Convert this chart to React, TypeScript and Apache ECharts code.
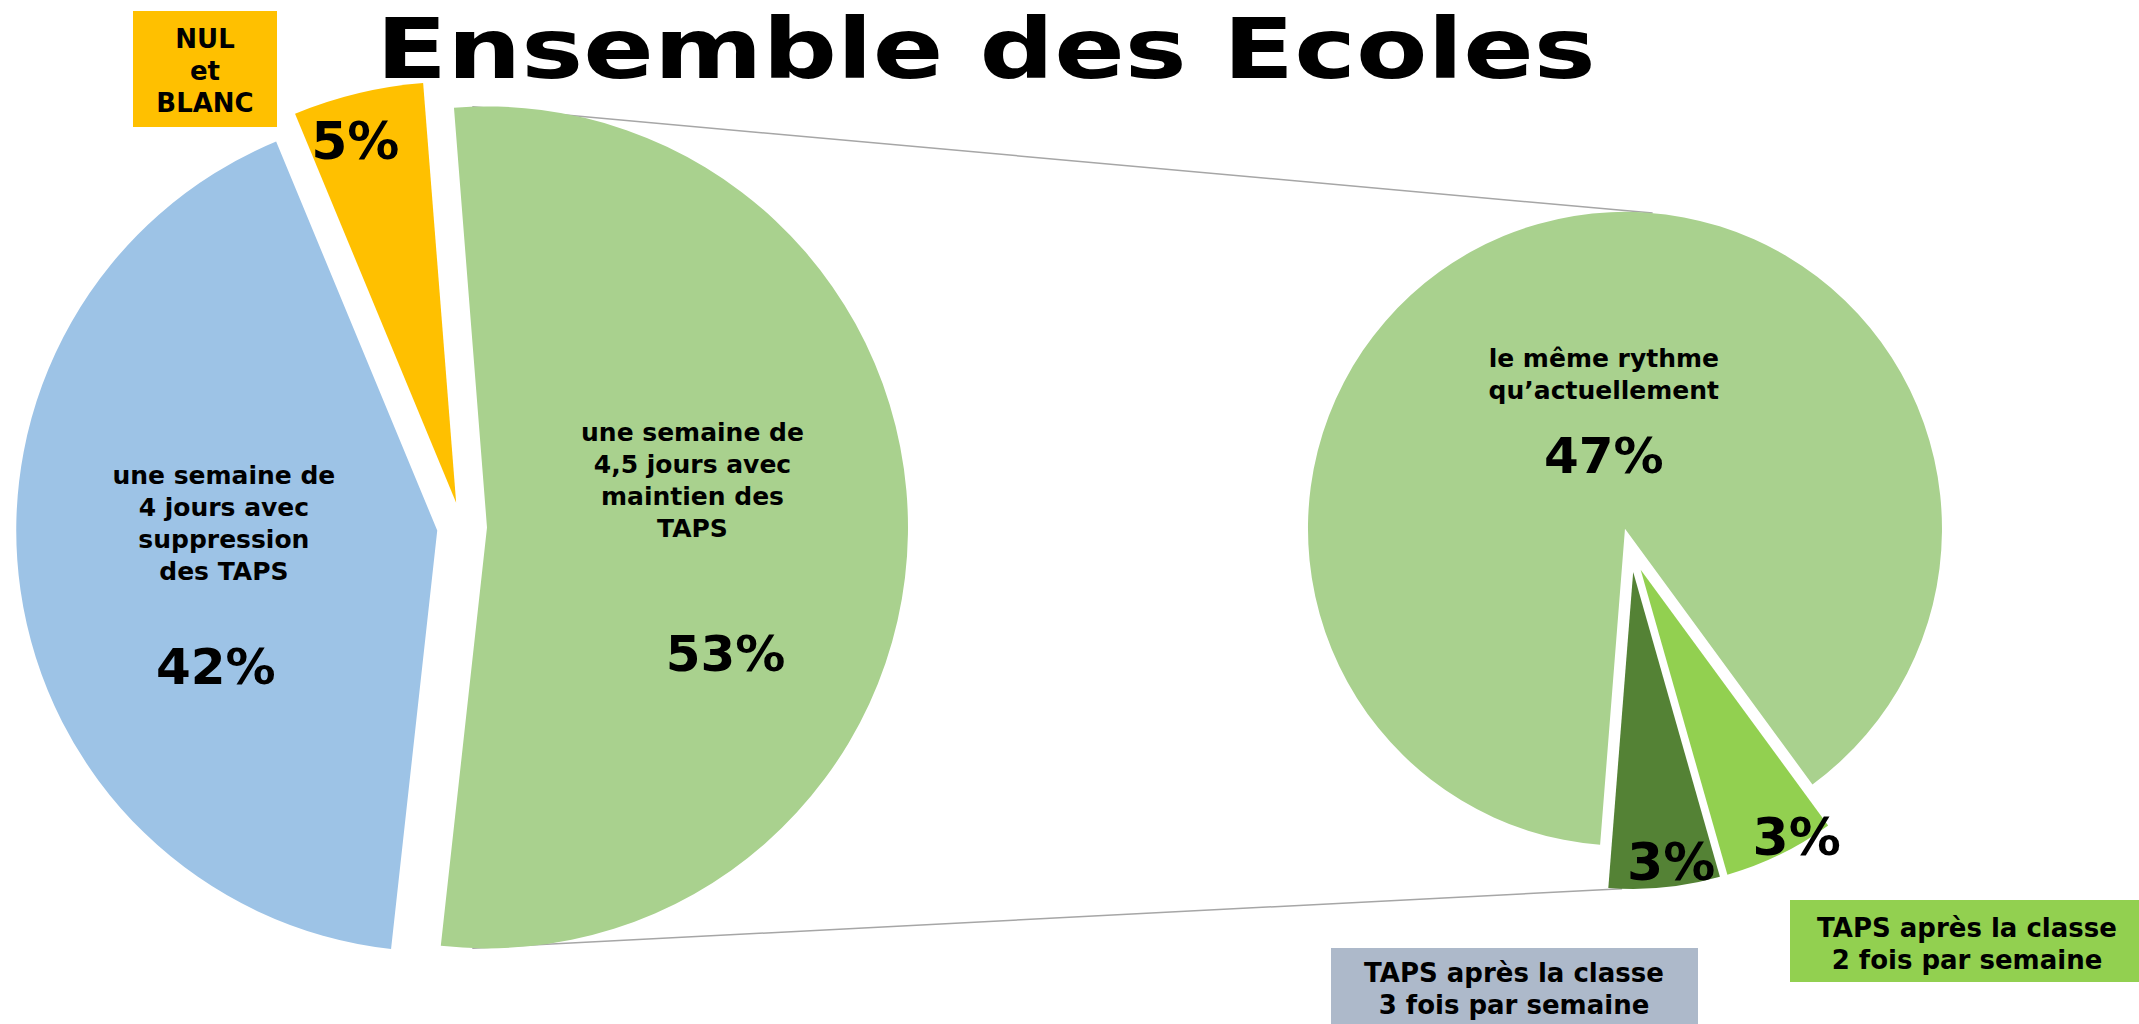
import React, { useEffect, useRef } from 'react';
import * as echarts from 'echarts';

// ---------- data ----------
const TITLE = 'Ensemble des Ecoles';

const LEFT_NAMES = [
  'une semaine de\n4,5 jours avec\nmaintien des\nTAPS',
  'une semaine de\n4 jours avec\nsuppression\ndes TAPS',
  'NUL\net\nBLANC',
];
const LEFT_VALUES = [53, 42, 5];

const RIGHT_NAMES = [
  'le même rythme\nqu’actuellement',
  'TAPS après la classe\n2 fois par semaine',
  'TAPS après la classe\n3 fois par semaine',
];
const RIGHT_VALUES = [47, 3, 3];

// ---------- styles / layout ----------
const LEFT_COLORS = ['#A9D18E', '#9DC3E6', '#FFC000'];
const RIGHT_COLORS = ['#A9D18E', '#92D050', '#548235'];

const FONT = 'DejaVu Sans';

const LEFT = { cx: 462, cy: 527, r: 421, offset: 25, start: 94.5 };
const RIGHT = { cx: 1631, cy: 550, r: 317, offset: 22, start: -94.5 };

const TITLE_POS = { x: 376, y: 49, fontSize: 84, scaleX: 1.24 };

// label kind per slice: rich key for the percentage, or 's' for small-slice labels
const LEFT_LABEL_KIND = ['pg', 'pb', 's'];
const RIGHT_LABEL_KIND = ['pr', 's', 's'];
const LEFT_SHIFT = [[-8, 59], [-2, 42], [-51, -154]];
const RIGHT_SHIFT = [[23, 50], [85, 122], [22, 129]];

// callout boxes (for the slices whose names are shown outside)
const LEFT_BOX = { 2: { x: 133, y: 11, w: 144, h: 116, tx: 205, ty: 71, lh: 32, fill: '#FFC000' } } as any;
const RIGHT_BOX = {
  1: { x: 1790, y: 900, w: 349, h: 82, tx: 1967, ty: 944, lh: 32, fill: '#92D050' },
  2: { x: 1331, y: 948, w: 367, h: 76, tx: 1514, ty: 989, lh: 32, fill: '#ADB9CA' },
} as any;

const RICH = {
  n: { fontSize: 25, lineHeight: 32, fontWeight: 'bold', fontFamily: FONT, color: '#000' },
  pg: { fontSize: 50, lineHeight: 219, fontWeight: 'bold', fontFamily: FONT, color: '#000', padding: [0, 0, 0, 66] },
  pb: { fontSize: 50, lineHeight: 159, fontWeight: 'bold', fontFamily: FONT, color: '#000', padding: [0, 16, 0, 0] },
  pr: { fontSize: 50, lineHeight: 99, fontWeight: 'bold', fontFamily: FONT, color: '#000' },
  s: { fontSize: 52, lineHeight: 60, fontWeight: 'bold', fontFamily: FONT, color: '#000' },
};

function sliceAngles(values: number[], start: number) {
  const total = values.reduce((a, b) => a + b, 0);
  let a = start;
  return values.map((v) => {
    const span = (v / total) * 360;
    const s = a;
    const e = a - span;
    a = e;
    return { start: s, end: e, mid: (s + e) / 2 };
  });
}
const rad = (d: number) => (d * Math.PI) / 180;
const pt = (x: number, y: number, r: number, deg: number) => [x + r * Math.cos(rad(deg)), y - r * Math.sin(rad(deg))];

function makeFormatter(kinds: string[]) {
  return (p: any) => {
    const kind = kinds[p.dataIndex];
    const pct = `${p.value}%`;
    if (kind === 's') return `{s|${pct}}`;
    const lines = String(p.name).split('\n').map((l) => `{n|${l}}`).join('\n');
    return `${lines}\n{${kind}|${pct}}`;
  };
}

function boxes(names: string[], defs: any) {
  const out: any[] = [];
  Object.keys(defs).forEach((k) => {
    const b = defs[k];
    out.push({ type: 'rect', shape: { x: b.x, y: b.y, width: b.w, height: b.h }, style: { fill: b.fill }, silent: true });
    out.push({
      type: 'text',
      x: b.tx,
      y: b.ty,
      silent: true,
      style: {
        text: names[Number(k)],
        align: 'center',
        verticalAlign: 'middle',
        fontSize: 26,
        fontWeight: 'bold',
        fontFamily: FONT,
        lineHeight: b.lh,
        fill: '#000',
      },
    });
  });
  return out;
}

export default function App() {
  const ref = useRef<HTMLDivElement>(null);
  useEffect(() => {
    if (!ref.current) return;
    const chart = echarts.init(ref.current, undefined, { renderer: 'svg' });

    const la = sliceAngles(LEFT_VALUES, LEFT.start);
    const ra = sliceAngles(RIGHT_VALUES, RIGHT.start);
    // apex of the exploded "53%" slice and of the pieces of the second pie
    const gApex = pt(LEFT.cx, LEFT.cy, LEFT.offset, la[0].mid);
    const mApex = pt(RIGHT.cx, RIGHT.cy, RIGHT.offset, ra[0].mid);
    const dApex = pt(RIGHT.cx, RIGHT.cy, RIGHT.offset, ra[2].mid);
    const topA = pt(gApex[0], gApex[1], LEFT.r, 92);
    const topB = pt(mApex[0], mApex[1], RIGHT.r, 85);
    const botA = pt(gApex[0], gApex[1], LEFT.r, -92);
    const botB = pt(dApex[0], dApex[1], RIGHT.r, -92);

    const lineStyle = { stroke: '#A6A6A6', lineWidth: 1.5 };

    const pieBase = {
      type: 'pie',
      clockwise: true,
      selectedMode: 'multiple',
      avoidLabelOverlap: false,
      emphasis: { disabled: true },
      labelLine: { show: false },
      itemStyle: { borderWidth: 0 },
    };

    chart.setOption({
      animation: false,
      backgroundColor: '#ffffff',
      graphic: [
        {
          type: 'text',
          x: TITLE_POS.x,
          y: TITLE_POS.y,
          scaleX: TITLE_POS.scaleX,
          silent: true,
          style: {
            text: TITLE,
            align: 'left',
            verticalAlign: 'middle',
            fontSize: TITLE_POS.fontSize,
            fontWeight: 'bold',
            fontFamily: FONT,
            fill: '#000',
          },
        },
        { type: 'line', shape: { x1: topA[0], y1: topA[1], x2: topB[0], y2: topB[1] }, style: lineStyle, silent: true, z: -1 },
        { type: 'line', shape: { x1: botA[0], y1: botA[1], x2: botB[0], y2: botB[1] }, style: lineStyle, silent: true, z: -1 },
        ...boxes(LEFT_NAMES, LEFT_BOX),
        ...boxes(RIGHT_NAMES, RIGHT_BOX),
      ],
      series: [
        {
          ...pieBase,
          name: 'gauche',
          center: [LEFT.cx, LEFT.cy],
          radius: LEFT.r,
          startAngle: LEFT.start,
          selectedOffset: LEFT.offset,
          data: LEFT_VALUES.map((v, i) => ({
            value: v,
            name: LEFT_NAMES[i],
            selected: true,
            itemStyle: { color: LEFT_COLORS[i] },
          })),
          label: { show: true, position: 'inside', formatter: makeFormatter(LEFT_LABEL_KIND), rich: RICH },
          labelLayout: (p: any) => ({ dx: LEFT_SHIFT[p.dataIndex][0], dy: LEFT_SHIFT[p.dataIndex][1] }),
        },
        {
          ...pieBase,
          name: 'droite',
          center: [RIGHT.cx, RIGHT.cy],
          radius: RIGHT.r,
          startAngle: RIGHT.start,
          selectedOffset: RIGHT.offset,
          data: RIGHT_VALUES.map((v, i) => ({
            value: v,
            name: RIGHT_NAMES[i],
            selected: true,
            itemStyle: { color: RIGHT_COLORS[i] },
          })),
          label: { show: true, position: 'inside', formatter: makeFormatter(RIGHT_LABEL_KIND), rich: RICH },
          labelLayout: (p: any) => ({ dx: RIGHT_SHIFT[p.dataIndex][0], dy: RIGHT_SHIFT[p.dataIndex][1] }),
        },
      ],
    });
    return () => chart.dispose();
  }, []);
  return (
    <div
      ref={ref}
      style={{ position: 'fixed', left: 0, top: 0, width: '2139px', height: '1024px', background: '#fff' }}
    />
  );
}
